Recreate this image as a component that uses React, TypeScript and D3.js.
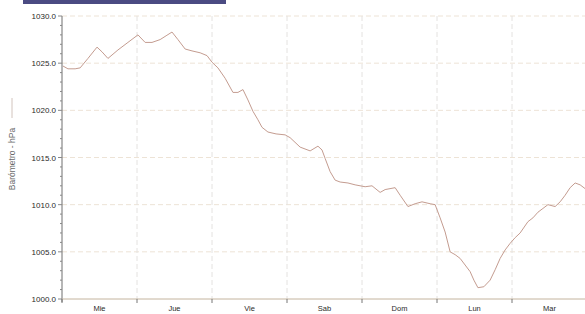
import React, { useEffect, useRef } from "react";
import * as d3 from "d3";

const DAYS = ["Mie", "Jue", "Vie", "Sab", "Dom", "Lun", "Mar"];
const Y_TICKS = [1000, 1005, 1010, 1015, 1020, 1025, 1030];

// hours since start of Mie
const HOURS = [
  0.3, 1.9, 4.2, 5.8, 8.3, 11.2, 12.8, 14.7, 17.9, 21.1, 24.3, 26.6, 28.8, 31.4, 33.3, 35.2,
  37.1, 39.4, 41.6, 44.2, 46.4, 48.0, 49.9, 52.2, 54.7, 56.3, 57.9, 59.5, 61.1, 62.7, 64.0,
  65.9, 68.5, 71.4, 73.0, 76.2, 79.4, 81.9, 83.2, 84.2, 85.8, 87.4, 89.0, 91.5, 93.8, 97.0,
  99.2, 101.8, 103.4, 106.6, 108.2, 110.7, 113.0, 115.2, 117.8, 119.4, 121.0, 122.6, 124.2,
  125.8, 127.4, 129.0, 130.6, 131.8, 133.1, 135.0, 137.0, 138.6, 140.2, 141.8, 143.4, 145.0,
  146.6, 149.1, 150.7, 152.3, 153.9, 155.5, 157.8, 159.4, 161.0, 162.6, 164.2, 165.8, 167.4,
];
const PRESSURE = [
  1024.7, 1024.4, 1024.4, 1024.5, 1025.5, 1026.7, 1026.2, 1025.5, 1026.4, 1027.2, 1028.0,
  1027.2, 1027.2, 1027.5, 1027.9, 1028.3, 1027.5, 1026.5, 1026.3, 1026.1, 1025.8, 1025.1,
  1024.5, 1023.4, 1021.9, 1021.9, 1022.2, 1021.1, 1019.9, 1019.0, 1018.2, 1017.7, 1017.5,
  1017.4, 1017.1, 1016.1, 1015.7, 1016.2, 1015.8, 1014.9, 1013.5, 1012.6, 1012.4, 1012.3,
  1012.1, 1011.9, 1012.0, 1011.3, 1011.6, 1011.8, 1011.0, 1009.8, 1010.1, 1010.3, 1010.1,
  1010.0, 1008.6, 1007.1, 1005.0, 1004.7, 1004.3, 1003.6, 1002.9, 1002.0, 1001.2, 1001.3,
  1002.0, 1003.1, 1004.3, 1005.2, 1005.9, 1006.5, 1007.0, 1008.2, 1008.6, 1009.2, 1009.6,
  1010.0, 1009.8, 1010.3, 1011.0, 1011.8, 1012.3, 1012.1, 1011.7,
];

const W = 585;
const H = 314;

export default function App() {
  const ref = useRef<SVGSVGElement>(null);

  useEffect(() => {
    if (!ref.current) return;
    const svg = d3.select(ref.current);
    svg.selectAll("*").remove();

    const left = 62, top = 16, bottom = 299, right = 587;
    const x = d3.scaleLinear().domain([0, 168]).range([left, right]);
    const y = d3.scaleLinear().domain([1000, 1030]).range([bottom, top]);
    const font = "Arial, 'Liberation Sans', sans-serif";

    // banner at the top
    svg.append("rect").attr("x", 23).attr("y", 0).attr("width", 203).attr("height", 4).attr("fill", "#4b4b82");

    // horizontal grid
    svg.append("g").selectAll("line").data(Y_TICKS.slice(1)).enter().append("line")
      .attr("x1", left).attr("x2", W).attr("y1", (d) => y(d)).attr("y2", (d) => y(d))
      .attr("stroke", "#ede3d6").attr("stroke-dasharray", "5,3").attr("stroke-width", 1);

    // vertical grid at day boundaries
    const bounds = d3.range(1, 7).map((i) => i * 24);
    svg.append("g").selectAll("line").data(bounds).enter().append("line")
      .attr("x1", (d) => x(d)).attr("x2", (d) => x(d)).attr("y1", top).attr("y2", bottom)
      .attr("stroke", "#e4e2e0").attr("stroke-dasharray", "5,3").attr("stroke-width", 1);

    // axes lines
    svg.append("line").attr("x1", left).attr("x2", left).attr("y1", top).attr("y2", bottom + 3)
      .attr("stroke", "#6f6f6f").attr("stroke-width", 1);
    svg.append("line").attr("x1", left).attr("x2", W).attr("y1", bottom).attr("y2", bottom)
      .attr("stroke", "#c4b49e").attr("stroke-width", 1);

    // minor y ticks
    svg.append("g").selectAll("line").data(d3.range(1000, 1031, 1)).enter().append("line")
      .attr("x1", (d) => (d % 5 === 0 ? left - 4 : left - 2)).attr("x2", left)
      .attr("y1", (d) => y(d)).attr("y2", (d) => y(d))
      .attr("stroke", "#888").attr("stroke-width", 1);

    // y labels
    svg.append("g").selectAll("text").data(Y_TICKS).enter().append("text")
      .attr("x", left - 6).attr("y", (d) => y(d) + 3)
      .attr("text-anchor", "end").attr("font-family", font).attr("font-size", 8)
      .attr("fill", "#2a2a2a").text((d) => d.toFixed(1));

    // x ticks
    svg.append("g").selectAll("line").data(d3.range(0, 7).map((i) => i * 24)).enter().append("line")
      .attr("x1", (d) => x(d)).attr("x2", (d) => x(d)).attr("y1", bottom).attr("y2", bottom + 4)
      .attr("stroke", "#777").attr("stroke-width", 1);

    // day labels
    svg.append("g").selectAll("text").data(DAYS).enter().append("text")
      .attr("x", (_, i) => x(i * 24 + 12)).attr("y", bottom + 12)
      .attr("text-anchor", "middle").attr("font-family", font).attr("font-size", 7.5)
      .attr("fill", "#2a2a2a").text((d) => d);

    // y title with legend swatch
    const tx = 15, ty = 159;
    svg.append("text").attr("transform", `translate(${tx},${ty}) rotate(-90)`)
      .attr("text-anchor", "middle").attr("font-family", font).attr("font-size", 8.5)
      .attr("fill", "#6a6a6a").text("Barómetro - hPa");
    svg.append("line").attr("x1", tx - 3).attr("x2", tx - 3).attr("y1", 98).attr("y2", 118)
      .attr("stroke", "#d2c4bd").attr("stroke-width", 1);

    // pressure line
    const line = d3.line<number>().x((_, i) => x(HOURS[i])).y((d) => y(d)).curve(d3.curveLinear);
    svg.append("path").datum(PRESSURE).attr("d", line).attr("fill", "none")
      .attr("stroke", "#c49c90").attr("stroke-width", 1);
  }, []);

  return (
    <svg ref={ref} width={W} height={H}
      style={{ position: "absolute", left: 0, top: 0, background: "#fff" }} />
  );
}
